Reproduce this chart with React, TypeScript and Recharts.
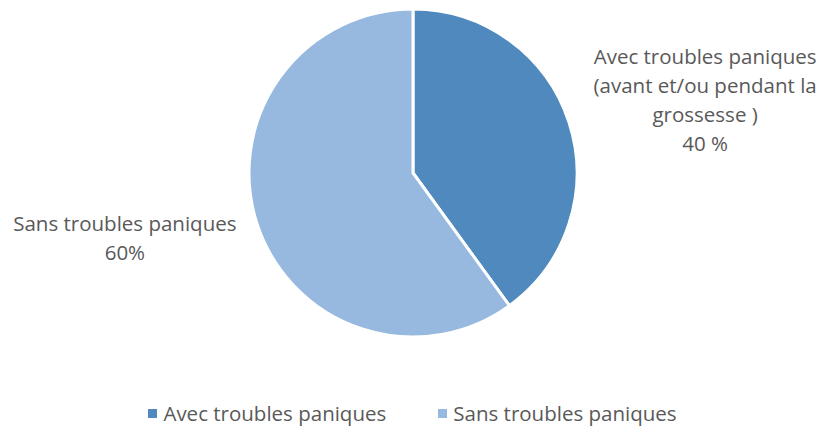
import { Cell, Legend, Pie, PieChart } from "recharts"

const categories = ["Avec troubles paniques", "Sans troubles paniques"]
const values = [40, 60]
const labelLines = [
  ["Avec troubles paniques", "(avant et/ou pendant la", "grossesse )", "40 %"],
  ["Sans troubles paniques", "60%"],
]
const colors = ["#4F89BD", "#97B9E0"]

const data = categories.map((name, i) => ({ name, value: values[i] }))

const FONT = "'Open Sans', 'Noto Sans', sans-serif"
const TEXT = "#595959"
const FS = 20.5

function renderLabel(props: any) {
  const { cx, cy, outerRadius, midAngle, index } = props
  const rad = (Math.PI / 180) * midAngle
  const r = outerRadius + 140
  // nudge each label block a little, like the original layout
  const nudge = index === 0 ? { x: 3, y: 20 } : { x: 1, y: -29 }
  const x = cx + r * Math.cos(rad) + nudge.x
  const y = cy - r * Math.sin(rad) + nudge.y
  const lines = labelLines[index]
  const lh = 29
  const top = y - ((lines.length - 1) * lh) / 2
  return (
    <text x={x} y={top} textAnchor="middle" dominantBaseline="central" fill={TEXT} fontSize={FS} fontFamily={FONT}>
      {lines.map((l, i) => (
        <tspan key={i} x={x} y={top + i * lh}>
          {l}
        </tspan>
      ))}
    </text>
  )
}

function renderLegend(props: any) {
  const { payload } = props
  return (
    <div style={{ display: "flex", justifyContent: "center", gap: 52, fontFamily: FONT, fontSize: FS, color: TEXT }}>
      {payload.map((p: any, i: number) => (
        <div key={i} style={{ display: "flex", alignItems: "center" }}>
          <span style={{ width: 9, height: 9, background: p.color, display: "inline-block", marginRight: 6 }} />
          <span>{p.value}</span>
        </div>
      ))}
    </div>
  )
}

export default function App() {
  return (
    <div style={{ position: "absolute", left: 0, top: 0, background: "#fff" }}>
      <PieChart width={825} height={434} margin={{ top: 0, right: 0, bottom: 0, left: 0 }}>
        <Pie
          data={data}
          dataKey="value"
          nameKey="name"
          cx={413}
          cy={173}
          outerRadius={164}
          startAngle={90}
          endAngle={-270}
          stroke="#fff"
          strokeWidth={3}
          label={renderLabel}
          labelLine={false}
          isAnimationActive={false}
        >
          {data.map((d, i) => (
            <Cell key={d.name} fill={colors[i]} />
          ))}
        </Pie>
        <Legend
          verticalAlign="bottom"
          content={renderLegend}
          wrapperStyle={{ bottom: 7 }}
        />
      </PieChart>
    </div>
  )
}
